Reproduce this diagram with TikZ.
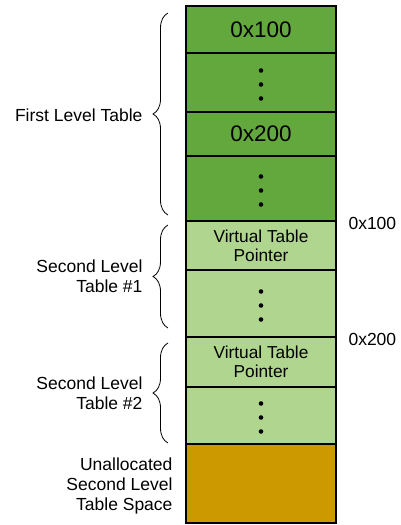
\documentclass[tikz,border=0pt]{standalone}
\usepackage{fontspec}
\setmainfont{Liberation Sans}
\usetikzlibrary{positioning,calc,decorations.pathreplacing}
\definecolor{firstgreen}{HTML}{63A83C}
\definecolor{secondgreen}{HTML}{AFD58E}
\definecolor{freespace}{HTML}{CC9900}

\tikzset{
  cell/.style={draw,line width=1.8pt,minimum width=150pt,outer sep=0pt,inner sep=0pt,
    align=center,font=\fontsize{17.3}{19}\selectfont},
  first/.style={cell,fill=firstgreen,font=\fontsize{22.5}{26}\selectfont},
  second/.style={cell,fill=secondgreen},
  lbl/.style={align=right,font=\fontsize{17.5}{20}\selectfont},
  curly/.style={decorate,decoration={brace,amplitude=15pt},line width=0.8pt}
}
\newcommand\rowdots[1]{\foreach \d in {-14,0,14} \fill ($(#1.center)+(0,\d+2)$) circle (2.3pt);}

\begin{document}
\begin{tikzpicture}[x=1pt,y=-1pt]
  \useasboundingbox (0,0) rectangle (400,525);
  \node[first,minimum height=47pt] (r1) at (261,29.5) {0x100};
  \node[first,minimum height=59pt,below=0pt of r1] (r2) {};
  \node[first,minimum height=44pt,below=0pt of r2] (r3) {0x200};
  \node[first,minimum height=65pt,below=0pt of r3] (r4) {};
  \node[second,minimum height=49pt,below=0pt of r4] (r5) {Virtual Table\\Pointer};
  \node[second,minimum height=67pt,below=0pt of r5] (r6) {};
  \node[second,minimum height=50pt,below=0pt of r6] (r7) {Virtual Table\\Pointer};
  \node[second,minimum height=57pt,below=0pt of r7] (r8) {};
  \node[cell,fill=freespace,minimum height=79pt,below=0pt of r8] (r9) {};
  \rowdots{r2}
  \rowdots{r4}
  \rowdots{r6}
  \rowdots{r8}

  \node[lbl,anchor=west] (a100) at ($(r5.north east)+(9,2)$) {0x100};
  \node[lbl,anchor=west] (a200) at ($(r7.north east)+(9,2)$) {0x200};

  \node[lbl,anchor=east] (flt) at (146,115) {First Level Table};
  \node[lbl,anchor=east] (slt1) at (146,276) {Second Level\\Table \#1};
  \node[lbl,anchor=east] (slt2) at (146,393) {Second Level\\Table \#2};
  \node[lbl,left=10pt of r9,yshift=-2pt] (free) {Unallocated\\Second Level\\Table Space};

  \draw[curly] ($(r4.south west)+(-18,-6)$) -- ($(r1.north west)+(-18,7)$);
  \draw[curly] ($(r6.south west)+(-18,-9)$) -- ($(r5.north west)+(-18,4)$);
  \draw[curly] ($(r8.south west)+(-18,-1)$) -- ($(r7.north west)+(-18,6)$);
\end{tikzpicture}
\end{document}
